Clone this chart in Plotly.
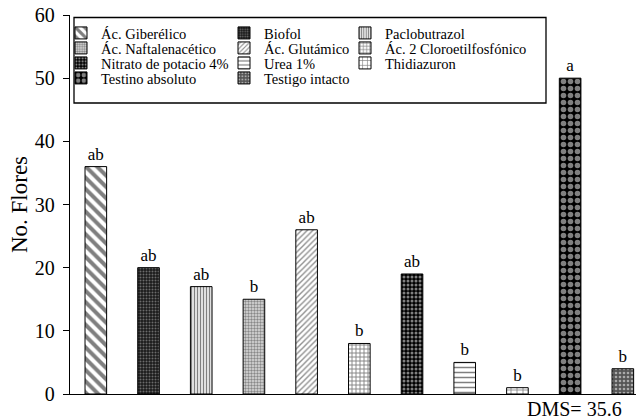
import plotly.graph_objects as go

categories = ["Ác. Giberélico", "Biofol", "Paclobutrazol", "Ác. Naftalenacético",
              "Ác. Glutámico", "Ác. 2 Cloroetilfosfónico", "Nitrato de potacio 4%",
              "Urea 1%", "Thidiazuron", "Testino absoluto", "Testigo intacto"]
values = [36, 20, 17, 15, 26, 8, 19, 5, 1, 50, 4]
letters = ["ab", "ab", "ab", "b", "ab", "b", "ab", "b", "b", "a", "b"]
y_ticks = [0, 10, 20, 30, 40, 50, 60]

patterns = [
    dict(shape="\\", fgcolor="black", bgcolor="white", size=8, solidity=0.5),
    dict(shape=".", fgcolor="#bbbbbb", bgcolor="#1a1a1a", size=3, solidity=0.35),
    dict(shape="|", fgcolor="black", bgcolor="white", size=3, solidity=0.5),
    dict(shape=".", fgcolor="#333333", bgcolor="#dddddd", size=3, solidity=0.5),
    dict(shape="/", fgcolor="#222222", bgcolor="white", size=4, solidity=0.35),
    dict(shape="+", fgcolor="black", bgcolor="white", size=4, solidity=0.4),
    dict(shape=".", fgcolor="white", bgcolor="black", size=4, solidity=0.45),
    dict(shape="-", fgcolor="black", bgcolor="white", size=5, solidity=0.3),
    dict(shape="+", fgcolor="black", bgcolor="white", size=6, solidity=0.25),
    dict(shape=".", fgcolor="white", bgcolor="black", size=7, solidity=0.5),
    dict(shape=".", fgcolor="white", bgcolor="#555555", size=4, solidity=0.35),
]

FONT = "Liberation Serif"
W, H = 639, 420
L, R, T, B = 70, 3, 15, 26
PW, PH = W - L - R, H - T - B

# legend grid (3 columns, row-major), pixel anchors of the text
col_text_px = [101, 264, 385]
row_center_px = [33, 48, 63, 78]


def px_x(px):
    return (px - L) / PW


def px_y(py):
    return (H - B - py) / PH


fig = go.Figure()
legends = {}
for i, (cat, val, let, pat) in enumerate(zip(categories, values, letters, patterns)):
    key = f"legend{i + 2}"
    col, row = i % 3, i // 3
    legends[key] = dict(
        x=px_x(col_text_px[col] - 40), y=px_y(row_center_px[row]),
        xanchor="left", yanchor="middle",
        font=dict(family=FONT, size=14.5, color="black"),
        bgcolor="rgba(0,0,0,0)", borderwidth=0, visible=True,
    )
    fig.add_trace(go.Bar(
        x=[i], y=[val], name=cat, legend=key, showlegend=True,
        width=0.41, text=[let], textposition="outside",
        textfont=dict(family=FONT, size=17, color="black"),
        marker=dict(color="white", pattern=pat, line=dict(color="black", width=1)),
        cliponaxis=False,
    ))

fig.update_layout(
    width=W, height=H,
    margin=dict(l=L, r=R, t=T, b=B),
    plot_bgcolor="white", paper_bgcolor="white",
    barmode="overlay", showlegend=True,
    font=dict(family=FONT, color="black"),
    xaxis=dict(range=[-0.49, 10.25], showticklabels=False, ticks="", showgrid=False,
               zeroline=False, showline=True, linecolor="black", linewidth=1.3),
    yaxis=dict(range=[0, 60], tickvals=y_ticks, ticks="outside", ticklen=6,
               tickcolor="black", tickwidth=1.3, showgrid=False, zeroline=False,
               showline=True, linecolor="black", linewidth=1.3, ticklabelstandoff=4,
               tickfont=dict(family=FONT, size=20, color="black"),
               title=dict(text="No. Flores", font=dict(family=FONT, size=23, color="black"),
                          standoff=0)),
    shapes=[dict(type="rect", xref="paper", yref="paper",
                 x0=px_x(74), x1=px_x(546), y0=px_y(103), y1=px_y(17.5),
                 line=dict(color="black", width=1.3), fillcolor="rgba(0,0,0,0)")],
    annotations=[dict(text="DMS= 35.6", xref="paper", yref="paper", x=px_x(624), y=px_y(409),
                      xanchor="right", yanchor="middle", showarrow=False,
                      font=dict(family=FONT, size=20, color="black"))],
    **legends,
)
fig.write_html("out.html", config={"displayModeBar": False},
               post_script="document.body.style.margin='0';")
